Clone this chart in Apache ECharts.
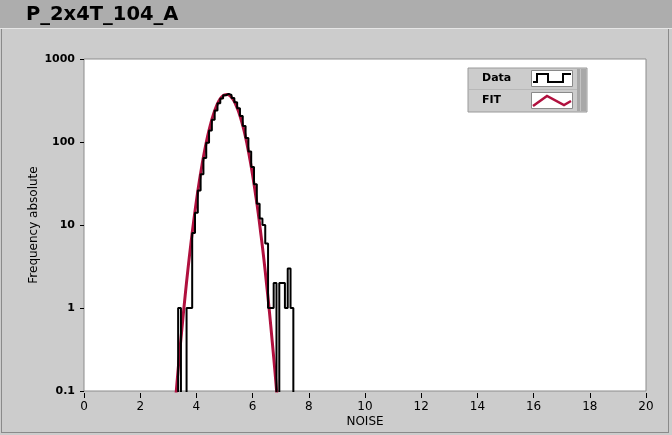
<!DOCTYPE html>
<html>
<head>
<meta charset="utf-8">
<script src="https://cdn.jsdelivr.net/npm/echarts@6/dist/echarts.min.js"></script>
<style>
html,body{margin:0;padding:0;background:#cccccc;}
#chart{width:672px;height:435px;}
</style>
</head>
<body>
<div id="chart"></div>
<script>
// ---- data ----
var titleText = "P_2x4T_104_A";
var xAxisName = "NOISE";
var yAxisName = "Frequency absolute";
var xTickLabels = ["0","2","4","6","8","10","12","14","16","18","20"];
var yTickLabels = ["0.1","1","10","100","1000"];
var legendNames = ["Data","FIT"];

// histogram bins (centre of each 0.1-wide bin) and counts
var binCenters = [3.4,3.5,3.6,3.7,3.8,3.9,4.0,4.1,4.2,4.3,4.4,4.5,4.6,4.7,4.8,4.9,5.0,5.1,5.2,5.3,5.4,5.5,5.6,5.7,5.8,5.9,6.0,6.1,6.2,6.3,6.4,6.5,6.6,6.7,6.8,6.9,7.0,7.1,7.2,7.3,7.4];
var binCounts  = [1,0,0,1,1,8,14,26,41,64,98,138,186,240,292,335,366,380,368,340,302,255,205,156,112,77,50,31,18,12,10,6,1,1,2,0,2,2,1,3,1];
var binWidth = 0.1;

// fitted curve
var fitX = [3.2,3.3,3.4,3.5,3.6,3.7,3.8,3.9,4.0,4.1,4.2,4.3,4.4,4.5,4.6,4.7,4.8,4.9,5.0,5.1,5.2,5.3,5.4,5.5,5.6,5.7,5.8,5.9,6.0,6.1,6.2,6.3,6.4,6.5,6.6,6.7,6.8,6.9];
var fitY = [0.045,0.115,0.28,0.64,1.41,2.94,5.8,10.9,19.5,33,53,81,118,162,212,263,311,348,370,374,359,327,283,233,181,135,95,63,40,24,13.9,7.5,3.9,1.9,0.89,0.39,0.165,0.066];

// ---- build series data ----
var FLOOR = 0.01; // below axis minimum -> drawn off the bottom (clipped)
var histData = [];
histData.push([binCenters[0] - binWidth/2, FLOOR]);
for (var i = 0; i < binCenters.length; i++) {
  histData.push([binCenters[i] - binWidth/2, binCounts[i] > 0 ? binCounts[i] : FLOOR]);
}
var lastC = binCounts[binCounts.length-1];
histData.push([binCenters[binCenters.length-1] + binWidth/2, lastC > 0 ? lastC : FLOOR]);
histData.push([binCenters[binCenters.length-1] + binWidth/2, FLOOR]);

var fitData = fitX.map(function(x, k){ return [x, fitY[k]]; });

var chart = echarts.init(document.getElementById('chart'), null, {renderer:'canvas'});
var FIT_COLOR = '#b0103e';
var option = {
  backgroundColor: '#cccccc',
  animation: false,
  grid: {
    left: 84, top: 59, right: 26, bottom: 44,
    show: true, backgroundColor: '#ffffff', borderColor: '#8c8c8c', borderWidth: 1
  },
  xAxis: {
    type: 'value', min: 0, max: 20, interval: 2,
    offset: 2,
    name: xAxisName, nameLocation: 'middle', nameGap: 23, nameMoveOverlap: false,
    nameTextStyle: {fontFamily: 'DejaVu Sans', fontSize: 12, color: '#000'},
    axisLine: {show: false},
    axisTick: {show: true, length: 5, lineStyle: {color: '#000', width: 1}},
    axisLabel: {
      margin: 8, fontFamily: 'DejaVu Sans', fontSize: 12, color: '#000',
      formatter: function(v){ return xTickLabels[Math.round(v/2)]; }
    },
    splitLine: {show: false}
  },
  yAxis: {
    type: 'log', logBase: 10, min: 0.1, max: 1000, splitNumber: 4,
    offset: 2,
    name: yAxisName, nameLocation: 'middle', nameGap: 42, nameMoveOverlap: false,
    nameTextStyle: {fontFamily: 'DejaVu Sans', fontSize: 12, color: '#000'},
    axisLine: {show: false},
    axisTick: {show: true, length: 4, lineStyle: {color: '#000', width: 1}},
    axisLabel: {
      margin: 7, fontFamily: 'DejaVu Sans', fontSize: 11, fontWeight: 'bold', color: '#000',
      formatter: function(v){ return yTickLabels[Math.round(Math.log10(v)) + 1]; }
    },
    splitLine: {show: false},
    minorTick: {show: false}
  },
  series: [
    {
      name: legendNames[1], type: 'line', data: fitData, smooth: true,
      showSymbol: false, clip: true,
      lineStyle: {color: FIT_COLOR, width: 3}, z: 3
    },
    {
      name: legendNames[0], type: 'line', data: histData, step: 'end',
      showSymbol: false, clip: true,
      lineStyle: {color: '#000000', width: 2}, z: 4
    }
  ],
  graphic: [
    {type: 'rect', shape: {x: 0, y: 0, width: 672, height: 28}, style: {fill: '#adadad'}, z: -5},
    {type: 'text', left: 26, top: 5, style: {text: titleText, font: 'bold 19.5px "DejaVu Sans"', fill: '#000'}, z: 10},
    {type: 'line', shape: {x1: 0, y1: 28.5, x2: 672, y2: 28.5}, style: {stroke: '#e6e6e6', lineWidth: 1}, z: -4},
    {type: 'line', shape: {x1: 1.5, y1: 29, x2: 1.5, y2: 433}, style: {stroke: '#8a8a8a', lineWidth: 1}, z: -4},
    {type: 'line', shape: {x1: 668.5, y1: 29, x2: 668.5, y2: 433}, style: {stroke: '#8a8a8a', lineWidth: 1}, z: -4},
    {type: 'line', shape: {x1: 1, y1: 432.5, x2: 669, y2: 432.5}, style: {stroke: '#8a8a8a', lineWidth: 1}, z: -4},
    // legend box
    {type: 'group', z: 100, children: [
      {type: 'rect', shape: {x: 468, y: 68, width: 119, height: 44}, style: {fill: '#cccccc', stroke: '#9a9a9a', lineWidth: 1}, z: 100},
      {type: 'rect', shape: {x: 577, y: 69, width: 9, height: 42}, style: {fill: '#a8a8a8'}, z: 101},
      {type: 'line', shape: {x1: 580.5, y1: 69, x2: 580.5, y2: 111}, style: {stroke: '#c4c4c4', lineWidth: 1}, z: 102},
      {type: 'line', shape: {x1: 469, y1: 89.5, x2: 577, y2: 89.5}, style: {stroke: '#b8b8b8', lineWidth: 1}, z: 101},
      {type: 'text', x: 482, y: 78, style: {text: legendNames[0], font: 'bold 11px "DejaVu Sans"', fill: '#000', textVerticalAlign: 'middle'}, z: 102},
      {type: 'text', x: 482, y: 100, style: {text: legendNames[1], font: 'bold 11px "DejaVu Sans"', fill: '#000', textVerticalAlign: 'middle'}, z: 102},
      {type: 'rect', shape: {x: 531.5, y: 70.5, width: 41, height: 16}, style: {fill: '#ffffff', stroke: '#8a8a8a', lineWidth: 1}, z: 101},
      {type: 'rect', shape: {x: 531.5, y: 92.5, width: 41, height: 16}, style: {fill: '#ffffff', stroke: '#8a8a8a', lineWidth: 1}, z: 101},
      {type: 'polyline', shape: {points: [[533,82],[537,82],[537,74],[548,74],[548,82],[563,82],[563,74],[571,74]]}, style: {stroke: '#000', lineWidth: 2, fill: null}, z: 103},
      {type: 'polyline', shape: {points: [[533,106],[547,96],[564,105],[571,101]]}, style: {stroke: FIT_COLOR, lineWidth: 2.5, fill: null}, z: 103}
    ]}
  ]
};
chart.setOption(option);
</script>
</body>
</html>
